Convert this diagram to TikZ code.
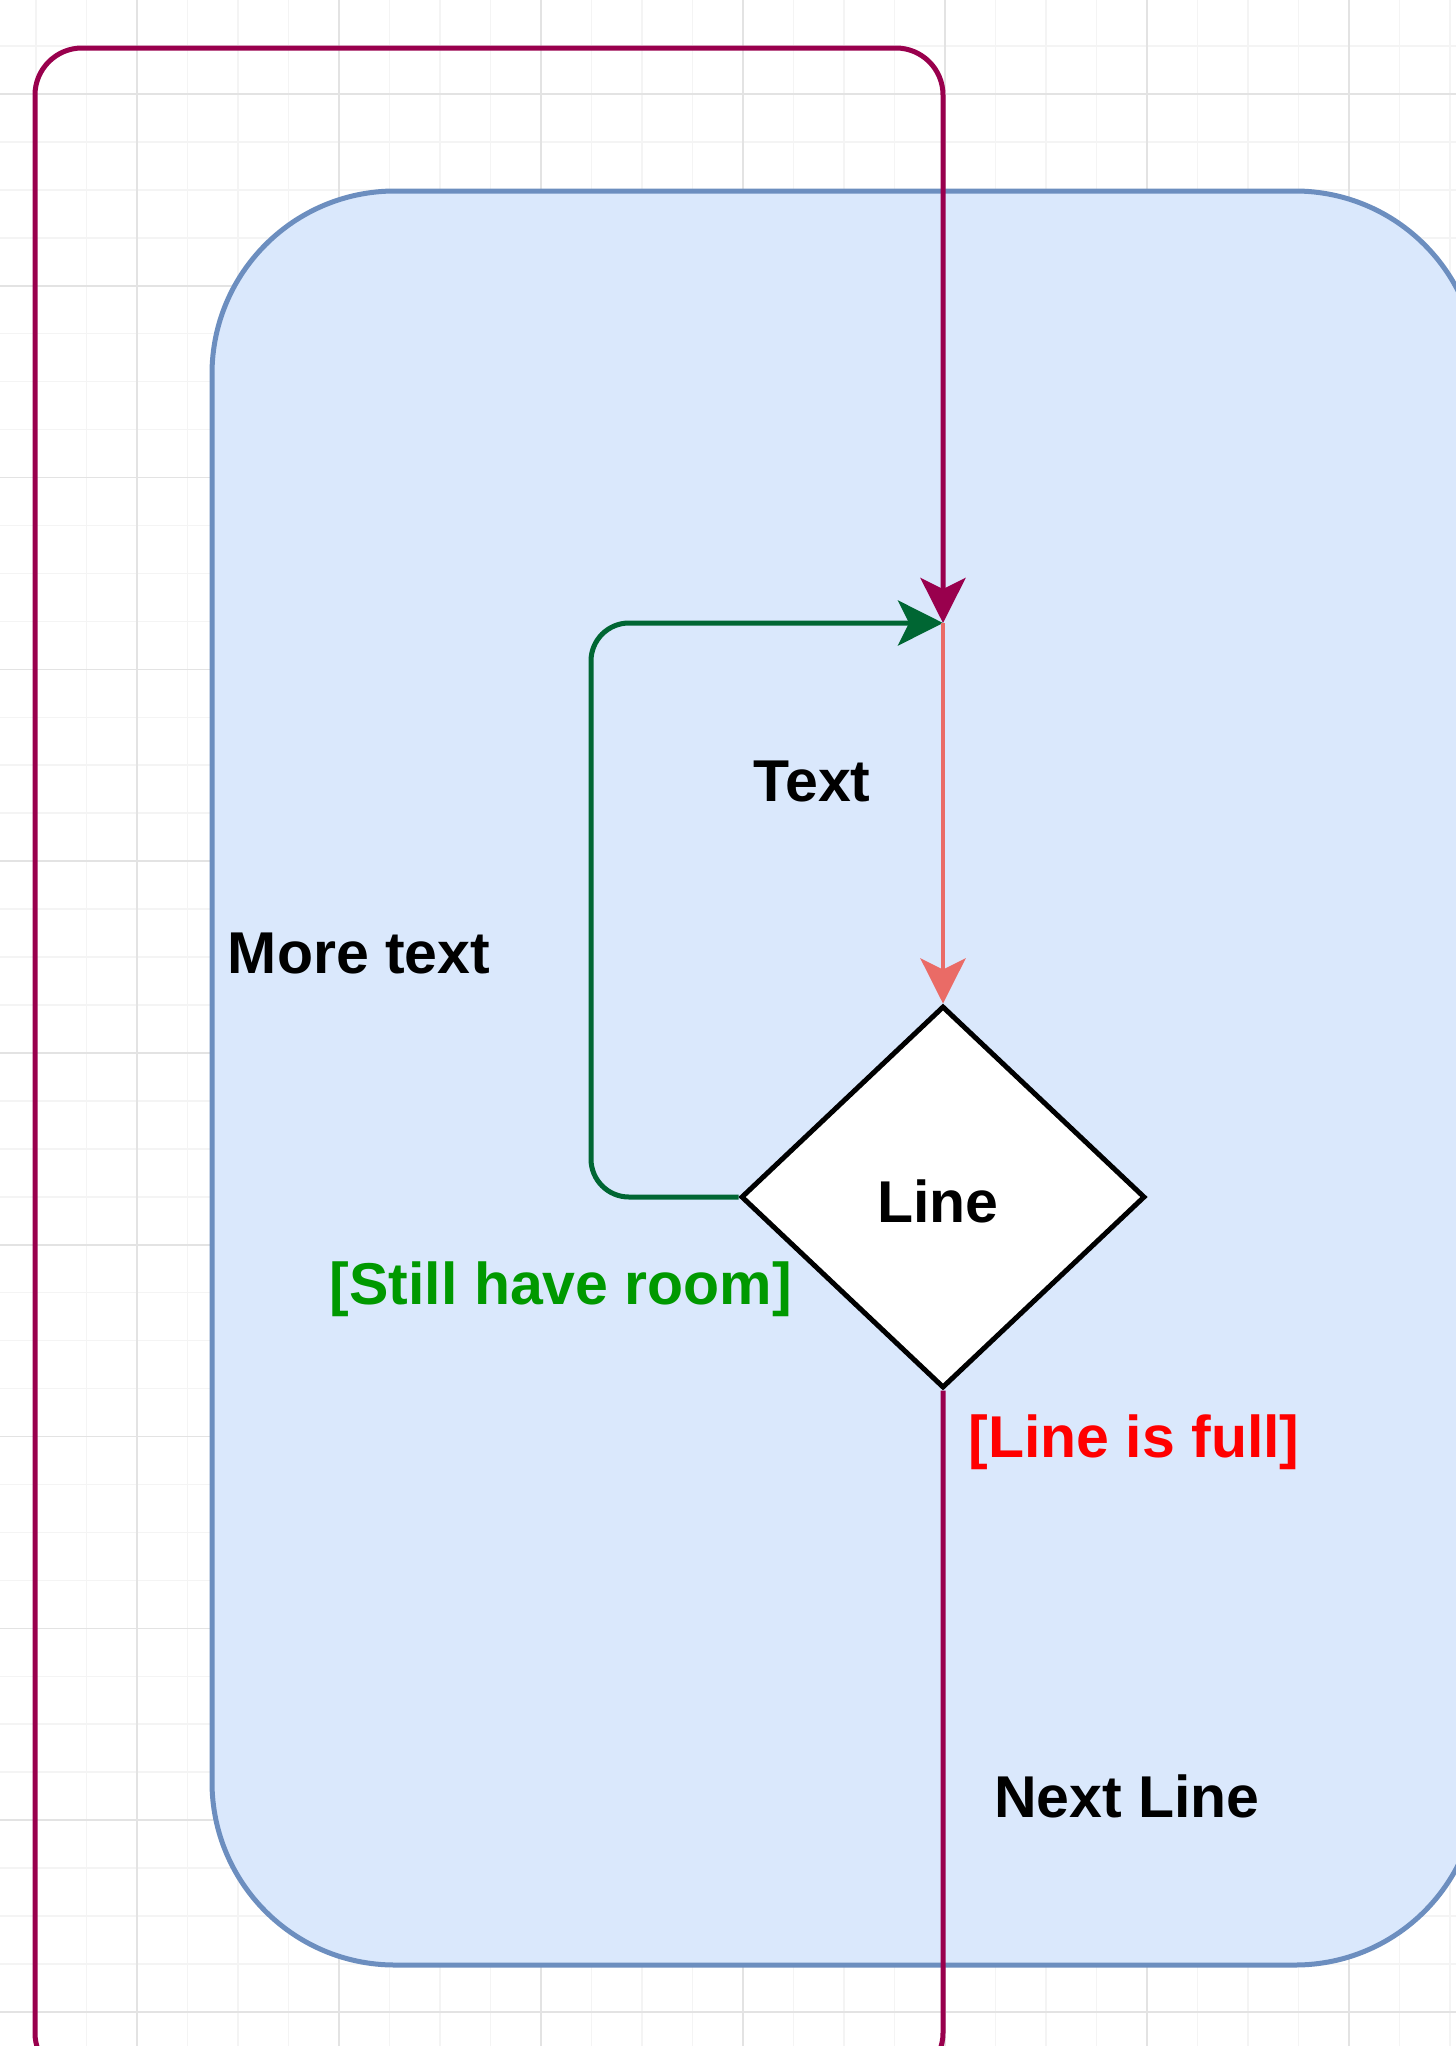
\documentclass[tikz,border=0pt]{standalone}
\usepackage{fontspec}
\setmainfont{Liberation Sans}
\usetikzlibrary{arrows.meta,shapes.geometric}
\definecolor{loopc}{HTML}{99004D}
\definecolor{greenc}{HTML}{006633}
\definecolor{salmonc}{HTML}{EA6B66}
\definecolor{boxfill}{HTML}{DAE8FC}
\definecolor{boxdraw}{HTML}{6C8EBF}
\definecolor{roomc}{HTML}{009900}
\definecolor{fullc}{HTML}{FF0000}
\definecolor{gridminor}{HTML}{F4F4F4}
\definecolor{gridmajor}{HTML}{E3E3E3}
\begin{document}
\begin{tikzpicture}[x=1pt,y=-1pt,
  lbl/.style={font=\fontsize{59}{70}\selectfont\bfseries, inner sep=0pt, anchor=base},
  tipc/.style={-{Stealth[length=45pt,width=45pt,inset=11pt]}},
  looppath/.style={draw=loopc, line width=5pt, rounded corners=47pt, tipc},
  greenpath/.style={draw=greenc, line width=5pt, rounded corners=38pt, tipc},
  salmonpath/.style={draw=salmonc, line width=4.5pt, tipc},
  container/.style={draw=boxdraw, fill=boxfill, line width=5pt, rounded corners=183pt},
  decision/.style={diamond, draw=black, fill=white, line width=5pt,
    minimum width=404pt, minimum height=382pt, inner sep=0pt}]
\useasboundingbox (0,0) rectangle (1456,2046);
\fill[white] (0,0) rectangle (1456,2046);
\clip (0,0) rectangle (1456,2046);

% background grid
\foreach \k in {0,...,28}
  \draw[gridminor, line width=1.5pt] ({36+50.5*\k},0) -- ({36+50.5*\k},2046);
\foreach \k in {0,...,43}
  \draw[gridminor, line width=1.5pt] (0,{-2+47.95*\k}) -- (1456,{-2+47.95*\k});
\foreach \k in {-1,...,6}
  \draw[gridmajor, line width=1.5pt] ({137+202*\k},0) -- ({137+202*\k},2046);
\foreach \k in {0,...,10}
  \draw[gridmajor, line width=1.5pt] (0,{94+191.8*\k}) -- (1456,{94+191.8*\k});

% container
\draw[container] (212,191) rectangle (1478,1965);

% decision node and junction
\coordinate (merge) at (943,623);
\coordinate (greenbend) at (591,623);
\coordinate (loopbr) at (943,2080);
\coordinate (looptl) at (35,48);
\node[decision] (line) at (943,1197) {};

% connectors
\draw[looppath] (line.south) -- (loopbr) -| (looptl) -| (merge);
\draw[greenpath] (line.west) -| (greenbend) -- (merge);
\draw[salmonpath] (merge) -- (line.north);

% labels
\node[lbl] (linelbl) at (938,1222) {Line};
\node[lbl] (txtlbl) at (812,801) {Text};
\node[lbl] (morelbl) at (359,973) {More text};
\node[lbl, text=roomc] (roomlbl) at (561,1304) {[Still have room]};
\node[lbl, text=fullc] (fulllbl) at (1134,1457) {[Line is full]};
\node[lbl] (nextlbl) at (1127,1817) {Next Line};
\end{tikzpicture}
\end{document}
